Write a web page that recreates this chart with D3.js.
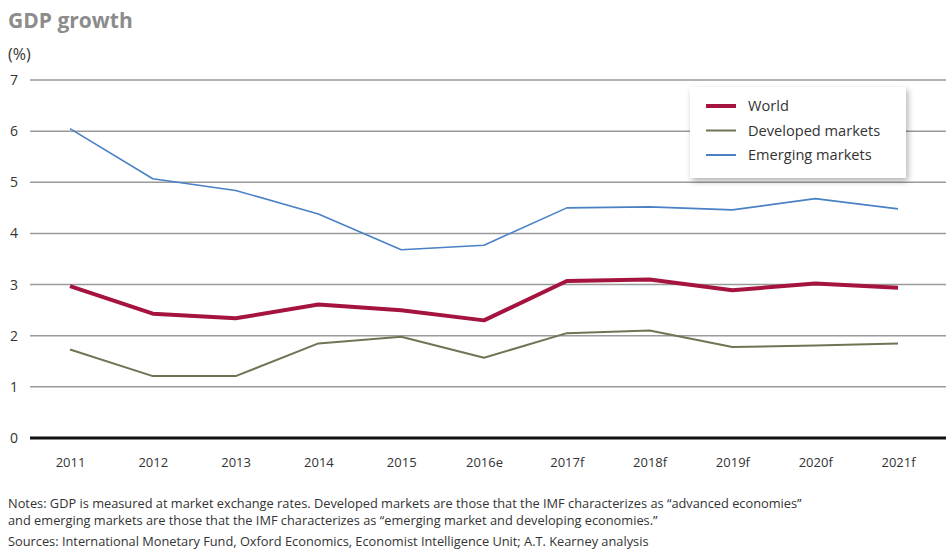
<!DOCTYPE html>
<html><head><meta charset="utf-8">
<script src="https://cdn.jsdelivr.net/npm/d3@7"></script>
<style>body{margin:0;background:#fff}svg{display:block}text{font-family:"Open Sans",sans-serif}</style>
</head><body>
<svg id="c" width="946" height="556"></svg>
<script>
const categories = ["2011","2012","2013","2014","2015","2016e","2017f","2018f","2019f","2020f","2021f"];
const world      = [2.97,2.43,2.34,2.61,2.50,2.30,3.07,3.10,2.89,3.02,2.94];
const developed  = [1.73,1.21,1.21,1.85,1.98,1.57,2.05,2.10,1.78,1.81,1.85];
const emerging   = [6.05,5.07,4.84,4.38,3.68,3.77,4.50,4.52,4.46,4.68,4.48];
const yTicks = [0,1,2,3,4,5,6,7];
const seriesNames = ["World","Developed markets","Emerging markets"];
const notes = [
  "Notes: GDP is measured at market exchange rates. Developed markets are those that the IMF characterizes as “advanced economies”",
  "and emerging markets are those that the IMF characterizes as “emerging market and developing economies.”",
  "Sources: International Monetary Fund, Oxford Economics, Economist Intelligence Unit; A.T. Kearney analysis"
];

const svg = d3.select("#c");
const x = d3.scalePoint().domain(categories).range([70, 898]);
const y = d3.scaleLinear().domain([0,7]).range([438, 80]);

svg.append("text").attr("x",8).attr("y",28).attr("font-size",21).attr("font-weight",700)
  .attr("fill","#8c8c8c").text("GDP growth");
svg.append("text").attr("x",8).attr("y",60).attr("font-size",16).attr("fill","#333").text("(%)");

// gridlines
const g = svg.append("g");
g.selectAll("line.grid").data(yTicks.filter(d=>d>0)).join("line")
  .attr("x1",30).attr("x2",946).attr("y1",d=>y(d)).attr("y2",d=>y(d))
  .attr("stroke","#9a9a9a").attr("stroke-width",1.5);
g.append("line").attr("x1",30).attr("x2",946).attr("y1",y(0)).attr("y2",y(0))
  .attr("stroke","#111").attr("stroke-width",3);
g.selectAll("text.yt").data(yTicks).join("text")
  .attr("x",10).attr("y",d=>y(d)+5).attr("font-size",14).attr("fill","#333").text(d=>d);

// x labels
const xAxis = d3.axisBottom(x).tickSize(0).tickPadding(0);
const xa = svg.append("g").attr("transform",`translate(0,${y(0)+20})`).call(xAxis);
xa.select(".domain").remove();
xa.selectAll("text").attr("font-size",13).attr("fill","#333").attr("font-family","'Open Sans',sans-serif");

const line = d3.line().x((d,i)=>x(categories[i])).y(d=>y(d));
const series = [
  {name:seriesNames[0], values:world, color:"#a5143f", w:4},
  {name:seriesNames[1], values:developed, color:"#6f7554", w:2},
  {name:seriesNames[2], values:emerging, color:"#4a80c4", w:1.6}
];
series.slice().reverse().forEach(s=>{
  svg.append("path").attr("d",line(s.values)).attr("fill","none")
    .attr("stroke",s.color).attr("stroke-width",s.w).attr("stroke-linejoin","round");
});

// legend
const defs = svg.append("defs");
const f = defs.append("filter").attr("id","sh").attr("x","-10%").attr("y","-10%").attr("width","130%").attr("height","140%");
f.append("feDropShadow").attr("dx",2).attr("dy",3).attr("stdDeviation",3).attr("flood-color","#000").attr("flood-opacity",0.3);
const lg = svg.append("g");
lg.append("rect").attr("x",690).attr("y",87).attr("width",216).attr("height",91)
  .attr("fill","#fff").attr("filter","url(#sh)");
series.forEach((s,i)=>{
  const yy = 106 + i*24.5;
  lg.append("line").attr("x1",706).attr("x2",736).attr("y1",yy).attr("y2",yy)
    .attr("stroke",s.color).attr("stroke-width",i===0?4:2);
  lg.append("text").attr("x",748).attr("y",yy+5).attr("font-size",14.6).attr("fill","#333").text(s.name);
});

// notes
svg.selectAll("text.note").data(notes).join("text")
  .attr("x",8).attr("y",(d,i)=>[508,525,546][i]).attr("font-size",12.8).attr("fill","#333").text(d=>d);
</script>
</body></html>
